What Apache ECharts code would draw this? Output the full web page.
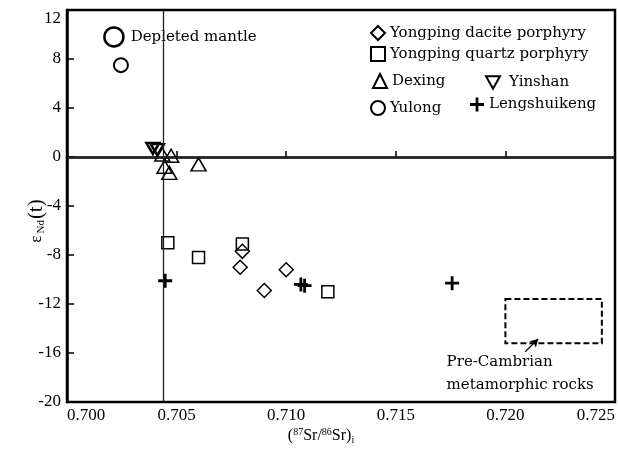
<!DOCTYPE html>
<html>
<head>
<meta charset="utf-8">
<script src="https://cdn.jsdelivr.net/npm/echarts@6/dist/echarts.min.js"></script>
<style>
  html, body { margin: 0; padding: 0; background: #fff; }
  #chart { width: 618px; height: 450px; }
</style>
</head>
<body>
<div id="chart"></div>
<script>
// Axis ranges and tick steps
const xRange = [0.700, 0.725];
const xStep = 0.005;
const yRange = [-20, 12];
const yStep = 4;

// Series names
const seriesNames = [
  'Yongping dacite porphyry',
  'Yongping quartz porphyry',
  'Dexing',
  'Yinshan',
  'Yulong',
  'Lengshuikeng'
];

// (87Sr/86Sr)i , eNd(t) pairs
const daciteData = [[0.7080, -7.7], [0.7079, -9.0], [0.7100, -9.2], [0.7090, -10.9]];
const quartzData = [[0.7046, -7.0], [0.7060, -8.2], [0.7080, -7.1], [0.7119, -11.0]];
const dexingData = [[0.70435, 0.2], [0.70475, 0.1], [0.70445, -0.8], [0.70467, -1.3], [0.7060, -0.6]];
const yinshanData = [[0.70392, 0.7], [0.70412, 0.6]];
const yulongData = [[0.70246, 7.5]];
const lengshuikengData = [[0.70448, -10.1], [0.71067, -10.4], [0.71084, -10.5], [0.71757, -10.3]];
const depletedMantleData = [[0.70214, 9.8]];

// Reference lines: bulk-earth Sr and chondritic Nd
const bulkEarthSr = 0.7044;
const chondriticNd = 0;

// Pre-Cambrian metamorphic rock field
const precambrianBox = [[0.7200, -11.6], [0.7244, -15.2]];
const precambrianArrow = [[0.7209, -15.9], [0.7215, -14.85]];

const SERIF_WIDE = 'DejaVu Serif';
const SERIF = 'Liberation Serif';
const PLUS = 'path://M0,4H4V0H6V4H10V6H6V10H4V6H0Z';
const DOWN_TRIANGLE = 'path://M0,0L10,0L5,9Z';

function hollow(name, data, symbol, size, width) {
  return {
    name: name,
    type: 'scatter',
    data: data,
    symbol: symbol,
    symbolSize: size,
    itemStyle: { color: 'rgba(0,0,0,0)', borderColor: '#000', borderWidth: width, opacity: 1 },
    emphasis: { disabled: true },
    z: 3
  };
}

const legendBase = {
  orient: 'vertical',
  itemWidth: 14,
  itemHeight: 14,
  padding: 0,
  selectedMode: false,
  textStyle: { fontFamily: SERIF_WIDE, fontSize: 15, color: '#000' }
};

const legendSpots = [
  { left: 370, top: 25 },
  { left: 370, top: 46 },
  { left: 372, top: 73 },
  { left: 485, top: 75, pad: 4 },
  { left: 370, top: 100 },
  { left: 470, top: 97 }
];

const chart = echarts.init(document.getElementById('chart'), null, { renderer: 'canvas' });

chart.setOption({
  animation: false,
  backgroundColor: '#fff',
  grid: {
    show: true,
    left: 67, right: 1, top: 10, bottom: 48,
    borderColor: '#000', borderWidth: 2.5,
    containLabel: false
  },
  legend: seriesNames.map((n, i) => Object.assign({}, legendBase, {
    data: [n],
    left: legendSpots[i].left,
    top: legendSpots[i].top,
    textStyle: Object.assign({}, legendBase.textStyle,
      legendSpots[i].pad ? { padding: [0, 0, 0, legendSpots[i].pad] } : {})
  })),
  xAxis: {
    type: 'value',
    min: xRange[0], max: xRange[1], interval: xStep,
    axisLine: { lineStyle: { color: '#000', width: 2.5 } },
    axisTick: { inside: true, length: 6, lineStyle: { color: '#000', width: 1.5 } },
    splitLine: { show: false },
    axisLabel: {
      formatter: v => v.toFixed(3),
      fontFamily: SERIF, fontSize: 17, color: '#000', margin: 5,
      alignMinLabel: 'left', alignMaxLabel: 'right'
    },
    name: '({sup|87}Sr/{sup|86}Sr){sub|i}',
    nameLocation: 'middle',
    nameGap: 25,
    nameMoveOverlap: false,
    nameTextStyle: {
      fontFamily: SERIF, fontSize: 16, color: '#000',
      padding: [0, 40, 0, 0],
      rich: {
        sup: { fontFamily: SERIF, fontSize: 10, verticalAlign: 'top', color: '#000' },
        sub: { fontFamily: SERIF, fontSize: 10, verticalAlign: 'bottom', color: '#000', padding: [8, 0, 0, 0] }
      }
    }
  },
  yAxis: {
    type: 'value',
    min: yRange[0], max: yRange[1], interval: yStep,
    axisLine: { lineStyle: { color: '#000', width: 2.5 } },
    axisTick: { inside: true, length: 7, lineStyle: { color: '#000', width: 1.5 } },
    splitLine: { show: false },
    axisLabel: {
      fontFamily: SERIF, fontSize: 17, color: '#000', margin: 6,
      verticalAlignMaxLabel: 'top'
    },
    name: '{e|ε}{s|Nd}{p|(t)}',
    nameLocation: 'middle',
    nameGap: 20,
    nameMoveOverlap: false,
    nameTextStyle: {
      fontFamily: SERIF, color: '#000',
      padding: [0, 30, 0, 0],
      rich: {
        e: { fontFamily: SERIF, fontSize: 17, color: '#000' },
        s: { fontFamily: SERIF, fontSize: 11, color: '#000', verticalAlign: 'bottom', padding: [0, 1, 0, 2] },
        p: { fontFamily: SERIF, fontSize: 21, color: '#000' }
      }
    }
  },
  series: [
    hollow(seriesNames[0], daciteData, 'diamond', 14, 1.5),
    Object.assign(hollow(seriesNames[1], quartzData, 'rect', 12, 1.5), {
      markArea: {
        silent: true,
        itemStyle: {
          color: 'rgba(0,0,0,0)', borderColor: '#000', borderWidth: 2,
          borderType: [6, 3]
        },
        label: {
          show: true, position: 'bottom', align: 'left', distance: 6,
          offset: [-107, 0],
          formatter: 'Pre-Cambrian\nmetamorphic rocks',
          fontFamily: SERIF_WIDE, fontSize: 15, lineHeight: 23, color: '#000'
        },
        data: [[{ coord: precambrianBox[0] }, { coord: precambrianBox[1] }]]
      }
    }),
    hollow(seriesNames[2], dexingData, 'triangle', [15, 13], 1.5),
    hollow(seriesNames[3], yinshanData, DOWN_TRIANGLE, [13, 11], 2.5),
    hollow(seriesNames[4], yulongData, 'circle', 14, 2),
    {
      name: seriesNames[5],
      type: 'scatter',
      data: lengshuikengData,
      symbol: PLUS,
      symbolSize: 14,
      itemStyle: { color: '#000', borderWidth: 0, opacity: 1 },
      emphasis: { disabled: true },
      z: 3,
      markLine: {
        silent: true,
        symbol: ['none', 'arrow'],
        symbolSize: [7, 8],
        label: { show: false },
        lineStyle: { color: '#000', width: 1.2, type: 'solid' },
        data: [[{ coord: precambrianArrow[0] }, { coord: precambrianArrow[1] }]]
      }
    },
    Object.assign(hollow('Depleted mantle', depletedMantleData, 'circle', 19, 2.5), {
      label: {
        show: true, position: 'right', distance: 6,
        formatter: 'Depleted mantle',
        fontFamily: SERIF_WIDE, fontSize: 15, color: '#000'
      },
      markLine: {
        silent: true,
        symbol: 'none',
        label: { show: false },
        lineStyle: { color: '#222', width: 1.3, type: 'solid' },
        data: [
          [{ coord: [bulkEarthSr, yRange[0]] }, { coord: [bulkEarthSr, yRange[1]] }],
          [{ coord: [xRange[0], chondriticNd] }, { coord: [xRange[1], chondriticNd] }]
        ]
      }
    })
  ]
});
</script>
</body>
</html>
